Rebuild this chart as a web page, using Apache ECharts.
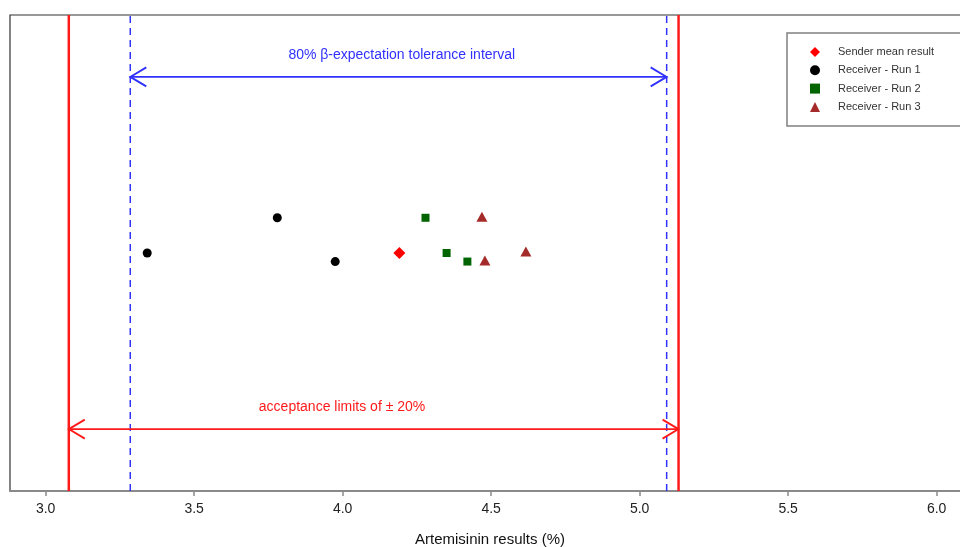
<!DOCTYPE html>
<html>
<head>
<meta charset="utf-8">
<script src="https://cdn.jsdelivr.net/npm/echarts@6/dist/echarts.min.js"></script>
<style>
html,body{margin:0;padding:0;background:#fff;}
#chart{width:960px;height:547px;}
</style>
</head>
<body>
<div id="chart"></div>
<script>
// ---- data ----
const xTickValues = [3.0, 3.5, 4.0, 4.5, 5.0, 5.5, 6.0];
const seriesNames = ['Sender mean result', 'Receiver - Run 1', 'Receiver - Run 2', 'Receiver - Run 3'];
const senderMean = [[4.191, 50.0]];
const receiverRun1 = [[3.342, 50.0], [3.780, 57.4], [3.975, 48.2]];
const receiverRun2 = [[4.279, 57.4], [4.350, 50.0], [4.420, 48.2]];
const receiverRun3 = [[4.469, 57.6], [4.479, 48.4], [4.617, 50.3]];
const acceptanceLimits = [3.078, 5.131];
const toleranceInterval = [3.285, 5.091];
const toleranceArrowY = 87.0;
const acceptanceArrowY = 13.0;
const toleranceLabelText = '80% \u03b2-expectation tolerance interval';
const toleranceLabelPos = [4.199, 91.6];
const acceptanceLabelText = 'acceptance limits of \u00b1 20%';
const acceptanceLabelPos = [3.998, 17.7];
const xAxisTitle = 'Artemisinin results (%)';

// ---- styles ----
const FONT = 'Liberation Sans, Arial, Helvetica, sans-serif';
const RED = '#ff1a1a';
const BLUE = '#3030ff';

function vline(x, color, width, type) {
  return {
    type: 'line', data: [[x, 0], [x, 100]], showSymbol: false, silent: true,
    lineStyle: {color: color, width: width, type: type}, z: 2, animation: false
  };
}

function arrowSeries(x1, x2, y, color) {
  return {
    type: 'custom', silent: true, animation: false, z: 3,
    data: [[x1, x2, y]],
    encode: {x: [0, 1], y: 2},
    renderItem: function (params, api) {
      const yy = api.value(2);
      const a = api.coord([api.value(0), yy]);
      const b = api.coord([api.value(1), yy]);
      const hx = 16, hy = 9.5;
      const st = {stroke: color, lineWidth: 1.8, fill: null};
      return {
        type: 'group', children: [
          {type: 'line', shape: {x1: a[0], y1: a[1], x2: b[0], y2: b[1]}, style: st},
          {type: 'polyline', shape: {points: [[a[0] + hx, a[1] - hy], [a[0], a[1]], [a[0] + hx, a[1] + hy]]}, style: st},
          {type: 'polyline', shape: {points: [[b[0] - hx, b[1] - hy], [b[0], b[1]], [b[0] - hx, b[1] + hy]]}, style: st}
        ]
      };
    }
  };
}

function textSeries(pos, text, color) {
  return {
    type: 'custom', silent: true, animation: false, z: 4,
    data: [pos],
    renderItem: function (params, api) {
      const p = api.coord([api.value(0), api.value(1)]);
      return {
        type: 'text', x: p[0], y: p[1],
        style: {text: text, fill: color, font: '14px ' + FONT, align: 'center', verticalAlign: 'middle'}
      };
    }
  };
}

const chart = echarts.init(document.getElementById('chart'));
chart.setOption({
  backgroundColor: '#fff',
  animation: false,
  grid: {
    left: 10, right: -10, top: 15, bottom: 56,
    outerBoundsMode: 'none', containLabel: false,
    show: true, borderColor: '#333', borderWidth: 1.2, backgroundColor: 'transparent'
  },
  xAxis: {
    type: 'value', min: 2.88, max: 2.88 + 960 / 297,
    name: xAxisTitle, nameLocation: 'middle', nameGap: 41,
    nameTextStyle: {fontFamily: FONT, fontSize: 15, color: '#111'},
    axisLine: {show: true, lineStyle: {color: '#8a8a8a', width: 2}},
    axisTick: {show: true, customValues: xTickValues, length: 5, lineStyle: {color: '#8a8a8a', width: 1.5}},
    axisLabel: {
      show: true, customValues: xTickValues, margin: 11,
      fontFamily: FONT, fontSize: 14, color: '#222',
      formatter: function (v) { return Number(v).toFixed(1); }
    },
    splitLine: {show: false}
  },
  yAxis: {
    type: 'value', min: 0, max: 100, show: false,
    splitLine: {show: false}
  },
  legend: {
    data: seriesNames,
    orient: 'vertical',
    left: 787, top: 33,
    padding: [12, 60, 12, 23],
    itemWidth: 10, itemHeight: 10, itemGap: 4.3,
    symbolKeepAspect: true,
    borderColor: '#808080', borderWidth: 1.5,
    backgroundColor: '#fff',
    textStyle: {fontFamily: FONT, fontSize: 11, color: '#333', lineHeight: 14, padding: [0, 0, 0, 13]},
    selectedMode: false
  },
  series: [
    vline(acceptanceLimits[0], RED, 2.5, 'solid'),
    vline(acceptanceLimits[1], RED, 2.5, 'solid'),
    vline(toleranceInterval[0], BLUE, 1.5, [7, 5]),
    vline(toleranceInterval[1], BLUE, 1.5, [7, 5]),
    arrowSeries(toleranceInterval[0], toleranceInterval[1], toleranceArrowY, BLUE),
    arrowSeries(acceptanceLimits[0], acceptanceLimits[1], acceptanceArrowY, RED),
    textSeries(toleranceLabelPos, toleranceLabelText, BLUE),
    textSeries(acceptanceLabelPos, acceptanceLabelText, RED),
    {name: seriesNames[0], type: 'scatter', data: senderMean, symbol: 'diamond', symbolSize: 12,
     symbolKeepAspect: true, itemStyle: {color: '#ff0000', opacity: 1}, z: 5},
    {name: seriesNames[1], type: 'scatter', data: receiverRun1, symbol: 'circle', symbolSize: 9,
     symbolKeepAspect: true, itemStyle: {color: '#000000', opacity: 1}, z: 5},
    {name: seriesNames[2], type: 'scatter', data: receiverRun2, symbol: 'rect', symbolSize: 8,
     symbolKeepAspect: true, itemStyle: {color: '#006400', opacity: 1}, z: 5},
    {name: seriesNames[3], type: 'scatter', data: receiverRun3, symbol: 'triangle', symbolSize: [11, 10],
     symbolKeepAspect: true, itemStyle: {color: '#a52a2a', opacity: 1}, z: 5}
  ]
});
</script>
</body>
</html>
